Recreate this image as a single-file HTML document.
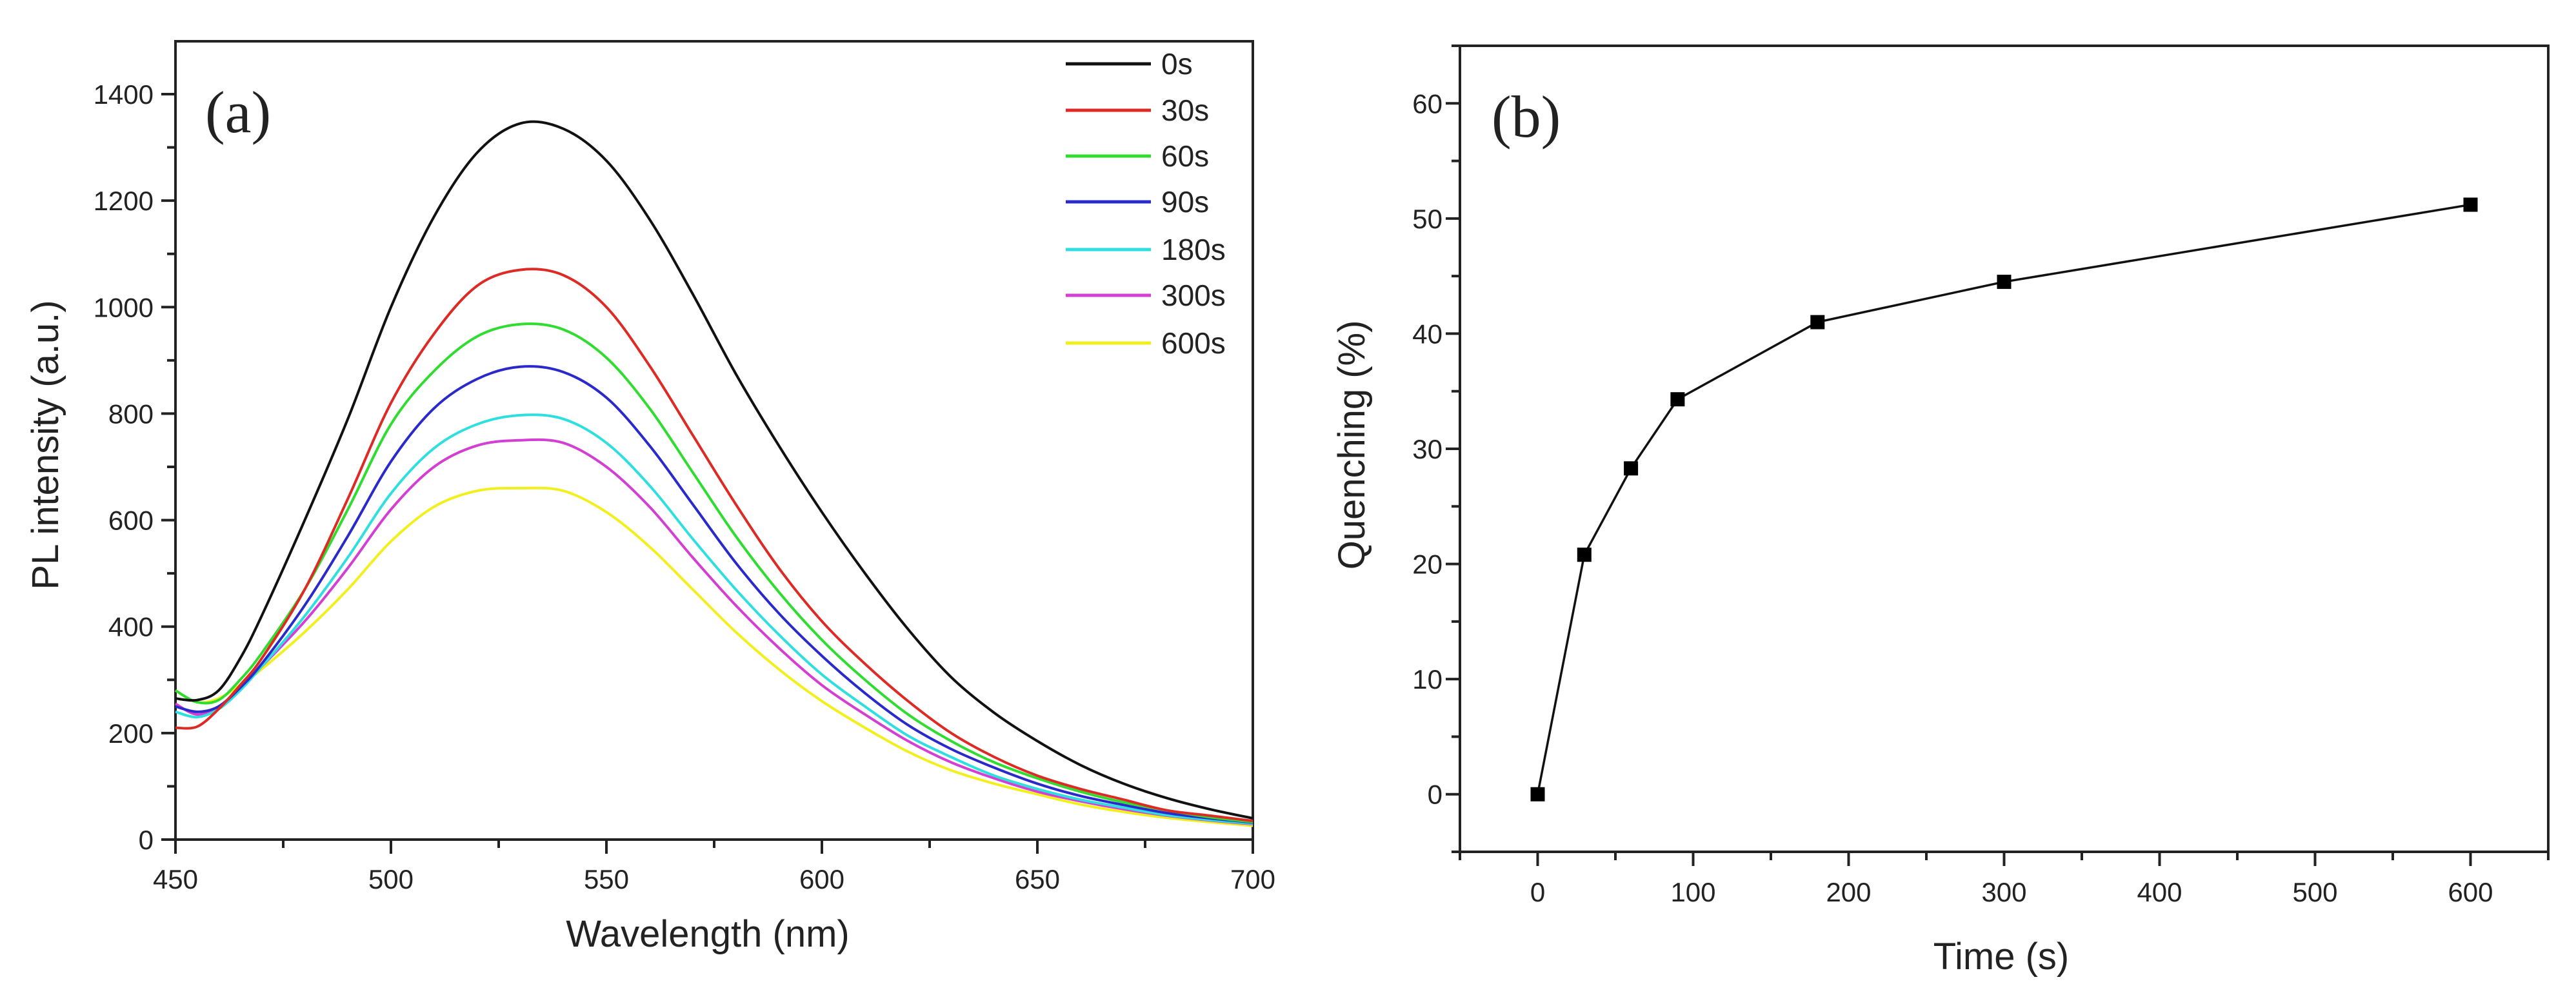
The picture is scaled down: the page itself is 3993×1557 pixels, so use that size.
<!DOCTYPE html>
<html><head><meta charset="utf-8"><style>
html,body{margin:0;padding:0;background:#fff}
svg{display:block}
text{font-family:"Liberation Sans",sans-serif;fill:#222}
</style></head><body>
<svg id="chart" width="3993" height="1557" viewBox="0 0 3993 1557" xmlns="http://www.w3.org/2000/svg">
<g id="pa"></g>
<g id="pb"></g>
</svg>
<script>
const wavelengths=[450,455,460,465,470,480,490,500,510,520,530,540,550,560,570,580,590,600,610,620,630,640,650,660,670,680,690,700];
const s0=[265,262,280,340,420,600,790,1000,1170,1290,1345,1335,1275,1165,1025,875,740,615,500,395,305,238,185,140,105,78,57,40];
const s30=[210,212,245,290,340,470,640,820,950,1040,1070,1060,1000,890,760,630,510,410,330,260,200,155,120,95,75,55,45,35];
const s60=[280,258,262,300,350,470,620,780,880,945,968,958,905,810,690,570,465,375,300,235,185,145,115,90,70,55,42,33];
const s90=[250,240,250,285,330,440,570,710,810,865,888,878,830,740,630,520,425,345,275,215,170,135,105,82,65,50,40,32];
const s180=[240,230,245,280,325,420,530,650,735,780,797,790,745,665,565,470,385,310,250,195,155,120,95,75,60,46,37,30];
const s300=[255,235,250,285,325,410,510,620,700,740,750,745,700,625,530,440,360,290,235,185,145,115,90,72,57,45,36,29];
const s600=[280,258,265,290,320,390,470,560,625,655,660,655,615,550,470,390,320,260,210,165,130,105,85,66,52,41,33,26];
const seriesLabels=["0s","30s","60s","90s","180s","300s","600s"];
const seriesColors=["#111","#dd2a25","#2fdc2f","#2a2acc","#2fdede","#d23fd2","#f2f01c"];
const xTicksA=[450,500,550,600,650,700];
const yTicksA=[0,200,400,600,800,1000,1200,1400];
const timesB=[0,30,60,90,180,300,600];
const quenchB=[0,20.8,28.3,34.3,41,44.5,51.2];
const xTicksB=[0,100,200,300,400,500,600];
const yTicksB=[0,10,20,30,40,50,60];

const NS="http://www.w3.org/2000/svg";
function mk(p,tag,at,txt){const e=document.createElementNS(NS,tag);for(const k in at)e.setAttribute(k,at[k]);if(txt!=null)e.textContent=txt;p.appendChild(e);return e;}
function smooth(pts){let d="M"+pts[0][0]+","+pts[0][1];for(let i=0;i<pts.length-1;i++){const p0=pts[Math.max(0,i-1)],p1=pts[i],p2=pts[i+1],p3=pts[Math.min(pts.length-1,i+2)];d+=" C"+(p1[0]+(p2[0]-p0[0])/6)+","+(p1[1]+(p2[1]-p0[1])/6)+" "+(p2[0]-(p3[0]-p1[0])/6)+","+(p2[1]-(p3[1]-p1[1])/6)+" "+p2[0]+","+p2[1];}return d;}

// Panel A
const A=document.getElementById('pa');
const aL=272,aR=1942,aT=64,aB=1302;
const xA=v=>aL+(v-450)/250*(aR-aL);
const yA=v=>aB-v/1400*(aB-146);
let e=mk(A,'rect',{x:aL,y:aT,width:aR-aL,height:aB-aT,fill:'none',stroke:'#222','stroke-width':4});

for(let v=450;v<=700;v+=25){const maj=(v%50===0);e=mk(A,'line',{x1:xA(v),x2:xA(v),y1:aB,y2:aB+(maj?22:13),stroke:'#222','stroke-width':4});}
xTicksA.forEach(v=>{e=mk(A,'text',{x:xA(v),y:1378,'font-size':42,'text-anchor':'middle'},v);});
for(let v=0;v<=1500;v+=100){const y=yA(v);if(y<aT)break;const maj=(v%200===0);e=mk(A,'line',{x1:aL,x2:aL-(maj?22:13),y1:y,y2:y,stroke:'#222','stroke-width':4});}
yTicksA.forEach(v=>{e=mk(A,'text',{x:238,y:yA(v)+15,'font-size':42,'text-anchor':'end'},v);});
e=mk(A,'text',{x:1097,y:1468,'font-size':58,'text-anchor':'middle'},'Wavelength (nm)');
e=mk(A,'text',{x:0,y:0,'font-size':58,'text-anchor':'middle',transform:'translate(90,690) rotate(-90)'},'PL intensity (a.u.)');
e=mk(A,'text',{x:318,y:205,'font-size':92,style:'font-family:"Liberation Serif",serif'},'(a)');
const allS=[s0,s30,s60,s90,s180,s300,s600];
for(let k=allS.length-1;k>=0;k--){const pts=wavelengths.map((w,i)=>[xA(w),yA(allS[k][i])]);e=mk(A,'path',{d:smooth(pts),fill:'none',stroke:seriesColors[k],'stroke-width':4});}
const legY=[99,171,242,313,387,458,532];
seriesLabels.forEach((l,k)=>{const g=mk(A,'g',{});
mk(g,'line',{x1:1652,x2:1784,y1:legY[k],y2:legY[k],stroke:seriesColors[k],'stroke-width':5});
mk(g,'text',{x:1800,y:legY[k]+16,'font-size':46},l);});

// Panel B
const B=document.getElementById('pb');
const bL=2263,bR=3950,bT=71,bB=1321;
const xB=v=>bL+(v+50)/700*(bR-bL);
const yB=v=>bB-(v+5)/70*(bB-bT);
e=mk(B,'rect',{x:bL,y:bT,width:bR-bL,height:bB-bT,fill:'none',stroke:'#222','stroke-width':4});

for(let v=-50;v<=650;v+=50){const maj=(v%100===0);e=mk(B,'line',{x1:xB(v),x2:xB(v),y1:bB,y2:bB+(maj?22:13),stroke:'#222','stroke-width':4});}
xTicksB.forEach(v=>{e=mk(B,'text',{x:xB(v),y:1398,'font-size':42,'text-anchor':'middle'},v);});
for(let v=-5;v<=65;v+=5){const maj=(v%10===0);e=mk(B,'line',{x1:bL,x2:bL-(maj?22:13),y1:yB(v),y2:yB(v),stroke:'#222','stroke-width':4});}
yTicksB.forEach(v=>{e=mk(B,'text',{x:2236,y:yB(v)+15,'font-size':42,'text-anchor':'end'},v);});
e=mk(B,'text',{x:3102,y:1503,'font-size':58,'text-anchor':'middle'},'Time (s)');
e=mk(B,'text',{x:0,y:0,'font-size':58,'text-anchor':'middle',transform:'translate(2115,690) rotate(-90)'},'Quenching (%)');
e=mk(B,'text',{x:2312,y:212,'font-size':92,style:'font-family:"Liberation Serif",serif'},'(b)');
e=mk(B,'polyline',{points:timesB.map((t,i)=>xB(t)+','+yB(quenchB[i])).join(' '),fill:'none',stroke:'#111','stroke-width':3.5});

timesB.forEach((t,i)=>{e=mk(B,'rect',{x:xB(t)-11,y:yB(quenchB[i])-11,width:22,height:22,fill:'#000'});});
</script>
</body></html>
